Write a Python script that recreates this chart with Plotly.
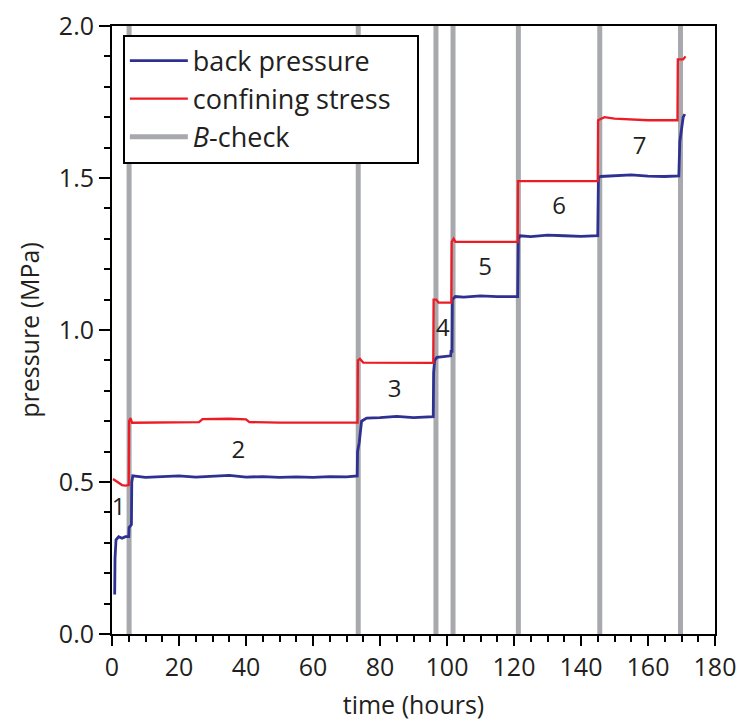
import plotly.graph_objects as go

# back pressure record (hours, MPa)
back_time = [0.8, 0.9, 1.2, 2, 3, 4, 5.0, 5.1, 5.8, 5.9, 6.2, 10, 15, 20, 25, 30, 35, 40, 45, 50,
             55, 60, 65, 70, 73.2, 73.3, 73.8, 74.5, 76, 80, 85, 90, 95.9, 96.0, 96.3, 97, 99,
             101.1, 101.2, 101.5, 101.6, 102.5, 105, 110, 115, 121.1, 121.3, 121.8, 125, 130, 135,
             140, 145.0, 145.2, 145.8, 150, 155, 160, 165, 169.2, 169.5, 170.5, 171]
back_p = [0.13, 0.25, 0.31, 0.32, 0.315, 0.32, 0.32, 0.35, 0.36, 0.50, 0.52, 0.515, 0.518, 0.52,
          0.516, 0.52, 0.522, 0.516, 0.518, 0.515, 0.517, 0.515, 0.518, 0.517, 0.52, 0.60, 0.63,
          0.70, 0.71, 0.712, 0.716, 0.712, 0.715, 0.86, 0.90, 0.91, 0.912, 0.915, 0.93, 0.93,
          1.10, 1.11, 1.108, 1.112, 1.11, 1.11, 1.30, 1.31, 1.307, 1.312, 1.31, 1.308, 1.31,
          1.50, 1.505, 1.508, 1.51, 1.506, 1.505, 1.507, 1.62, 1.70, 1.71]

# confining stress record (hours, MPa)
conf_time = [0.3, 1, 2, 3, 4, 5.0, 5.1, 5.5, 6, 10, 20, 26, 27, 35, 40, 41, 50, 60, 73.3, 73.4,
             74, 75, 85, 95.9, 96.0, 96.8, 97.5, 101.3, 101.4, 102, 102.5, 110, 121.1, 121.2,
             130, 140, 145.0, 145.1, 147, 150, 155, 160, 168.8, 168.9, 170.5, 171.2]
conf_p = [0.51, 0.505, 0.50, 0.49, 0.488, 0.49, 0.70, 0.71, 0.695, 0.695, 0.695, 0.697, 0.707,
          0.708, 0.706, 0.697, 0.695, 0.695, 0.695, 0.90, 0.905, 0.893, 0.892, 0.892, 1.10, 1.10,
          1.09, 1.09, 1.29, 1.30, 1.29, 1.29, 1.29, 1.49, 1.49, 1.492, 1.49, 1.69, 1.70, 1.695,
          1.693, 1.69, 1.69, 1.89, 1.89, 1.90]

# B-check times (hours)
bcheck_times = [5.1, 73.5, 96.7, 101.8, 121.3, 145.6, 169.7]

# loading stage labels
stage_labels = ["1", "2", "3", "4", "5", "6", "7"]
stage_t = [2.0, 37.7, 84.4, 98.8, 111.4, 133.5, 157.5]
stage_p = [0.41, 0.60, 0.80, 1.00, 1.20, 1.40, 1.60]

FONT = "Open Sans"
TXT = "#231F20"
BLUE = "#2E3192"
RED = "#ED1C24"
GREY = "#A7A9AC"
PAD = "\u00a0" * 3  # extra room on the right of the legend box

bx, by = [], []
for t in bcheck_times:
    bx += [t, t, None]
    by += [0, 2.0, None]

fig = go.Figure()
fig.add_trace(go.Scatter(x=bx, y=by, mode="lines", name="<i>B</i>-check",
                         line=dict(color=GREY, width=5), legendrank=3))
fig.add_trace(go.Scatter(x=back_time, y=back_p, mode="lines", name="back pressure",
                         line=dict(color=BLUE, width=2.8), legendrank=1))
fig.add_trace(go.Scatter(x=conf_time, y=conf_p, mode="lines", name="confining stress" + PAD,
                         line=dict(color=RED, width=2.3), legendrank=2))
fig.add_trace(go.Scatter(x=stage_t, y=stage_p, mode="text", text=stage_labels,
                         textfont=dict(family=FONT, size=24, color=TXT), showlegend=False))

fig.update_layout(
    width=742, height=721,
    margin=dict(l=112, r=27, t=26, b=87),
    paper_bgcolor="white", plot_bgcolor="white",
    font=dict(family=FONT, color=TXT, size=24),
    showlegend=True,
    legend=dict(x=0.018, y=0.986, xanchor="left", yanchor="top",
                bgcolor="white", bordercolor="black", borderwidth=2,
                font=dict(family=FONT, size=27, color=TXT),
                tracegroupgap=0, itemwidth=58),
)
fig.update_xaxes(
    range=[0, 180], showgrid=False, zeroline=False, automargin=False,
    showline=True, linecolor="black", linewidth=2, mirror=True,
    ticks="outside", tickcolor="black", tickwidth=2, ticklen=10,
    tick0=0, dtick=20, tickfont=dict(size=25),
    minor=dict(ticks="outside", tickcolor="black", tickwidth=2, ticklen=6, dtick=5),
    title=dict(text="time (hours)", font=dict(size=25), standoff=18),
)
fig.update_yaxes(
    range=[0, 2.0], showgrid=False, zeroline=False, automargin=False,
    showline=True, linecolor="black", linewidth=2, mirror=True,
    ticks="outside", tickcolor="black", tickwidth=2, ticklen=11,
    tick0=0, dtick=0.5, tickformat=".1f", tickfont=dict(size=25),
    minor=dict(ticks="outside", tickcolor="black", tickwidth=2, ticklen=6, dtick=0.1),
    title=dict(text="pressure (MPa)", font=dict(size=25), standoff=12),
)

fig.write_html("out.html")
